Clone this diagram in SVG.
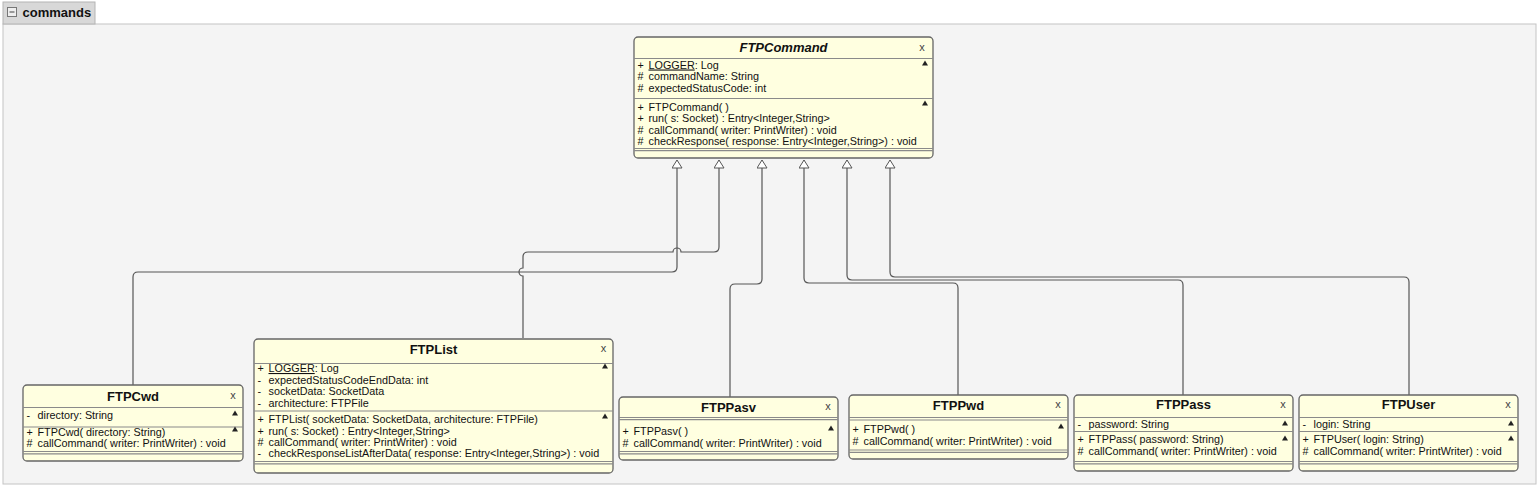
<svg xmlns="http://www.w3.org/2000/svg" width="1539" height="488" viewBox="0 0 1539 488">
<style>
text { font-family: "Liberation Sans", Arial, sans-serif; fill: #111; }
.m { font-size: 10.8px; }
.ti { font-size: 13px; font-weight: bold; text-anchor: middle; }
.cx { font-size: 11px; fill: #444; text-anchor: middle; }
.box { fill: #ffffe0; stroke: #666; stroke-width: 1.3; }
.sep { stroke: #8a8a8a; stroke-width: 1.2; fill: none; }
.tri { fill: #222; }
.conn path { fill: none; stroke: #555; stroke-width: 1.2; marker-end: url(#gen); }
</style>
<defs>
<marker id="gen" viewBox="0 0 9 11" refX="8.5" refY="5.5" markerWidth="9" markerHeight="11" markerUnits="userSpaceOnUse" orient="auto">
<path d="M0.5,0.5 L8.5,5.5 L0.5,10.5 Z" fill="#fff" stroke="#555" stroke-width="1"/>
</marker>
</defs>

<g id="package">
<rect x="3" y="24" width="1533" height="460" fill="#f4f4f4" stroke="#c4c4c4" stroke-width="1"/>
<rect x="3" y="2" width="92" height="22" fill="#d8d8d8" stroke="#b4b4b4" stroke-width="1"/>
<rect x="7.5" y="7.5" width="9" height="9" fill="#eeeeee" stroke="#777" stroke-width="1"/>
<line x1="9.5" y1="12" x2="14.5" y2="12" stroke="#444" stroke-width="1"/>
<text x="22.5" y="17" style="font-size:13px;font-weight:bold">commands</text>
</g>

<g class="conn" id="connectors">
<path d="M133,385 V277 Q133,272 138,272 H672 Q677,272 677,267 V160"/>
<path d="M523,338 V276 A4,4 0 0 1 523,268 V257 Q523,252 528,252 H673 A4,4 0 0 1 681,252 H714 Q719,252 719,247 V160"/>
<path d="M730,397 V289 Q730,284 735,284 H757 Q762,284 762,279 V160"/>
<path d="M958,395 V288 Q958,283 953,283 H809 Q804,283 804,278 V160"/>
<path d="M1183,395 V285 Q1183,280 1178,280 H852 Q847,280 847,275 V160"/>
<path d="M1409,395 V282 Q1409,277 1404,277 H895 Q890,277 890,272 V160"/>
</g>

<g id="FTPCommand">
<rect class="box" x="634" y="37" width="299" height="121" rx="4"/>
<text class="ti" x="783.5" y="52" font-style="italic">FTPCommand</text>
<text class="cx" x="922" y="51">x</text>
<line class="sep" x1="634" y1="58.5" x2="933" y2="58.5"/>
<polygon class="tri" points="922,65.5 928,65.5 925,60.5"/>
<text class="m" y="68.5"><tspan x="637.5">+</tspan><tspan x="648.5" text-decoration="underline">LOGGER</tspan><tspan>: Log</tspan></text>
<text class="m" y="80"><tspan x="637.5">#</tspan><tspan x="648.5">commandName: String</tspan></text>
<text class="m" y="91.5"><tspan x="637.5">#</tspan><tspan x="648.5">expectedStatusCode: int</tspan></text>
<line class="sep" x1="634" y1="98.5" x2="933" y2="98.5"/>
<polygon class="tri" points="922,105.5 928,105.5 925,100.5"/>
<text class="m" y="110.5"><tspan x="637.5">+</tspan><tspan x="648.5">FTPCommand( )</tspan></text>
<text class="m" y="122"><tspan x="637.5">+</tspan><tspan x="648.5">run( s: Socket) : Entry&lt;Integer,String&gt;</tspan></text>
<text class="m" y="133.5"><tspan x="637.5">#</tspan><tspan x="648.5">callCommand( writer: PrintWriter) : void</tspan></text>
<text class="m" y="145"><tspan x="637.5">#</tspan><tspan x="648.5">checkResponse( response: Entry&lt;Integer,String&gt;) : void</tspan></text>
<line class="sep" x1="634" y1="148.5" x2="933" y2="148.5"/>
<line class="sep" x1="634" y1="150.7" x2="933" y2="150.7"/>
</g>

<g id="FTPCwd">
<rect class="box" x="23" y="385" width="220" height="76" rx="4"/>
<text class="ti" x="133" y="401">FTPCwd</text>
<text class="cx" x="233" y="399">x</text>
<line class="sep" x1="23" y1="407.5" x2="243" y2="407.5"/>
<polygon class="tri" points="232,415.5 238,415.5 235,410.5"/>
<text class="m" y="418.5"><tspan x="26.5">-</tspan><tspan x="37.5">directory: String</tspan></text>
<line class="sep" x1="23" y1="427" x2="243" y2="427"/>
<polygon class="tri" points="232,431.5 238,431.5 235,426.5"/>
<text class="m" y="435.5"><tspan x="26.5">+</tspan><tspan x="37.5">FTPCwd( directory: String)</tspan></text>
<text class="m" y="447"><tspan x="26.5">#</tspan><tspan x="37.5">callCommand( writer: PrintWriter) : void</tspan></text>
<line class="sep" x1="23" y1="451.5" x2="243" y2="451.5"/>
<line class="sep" x1="23" y1="453.8" x2="243" y2="453.8"/>
</g>

<g id="FTPList">
<rect class="box" x="254" y="339" width="359" height="134" rx="4"/>
<text class="ti" x="433.5" y="353.5">FTPList</text>
<text class="cx" x="603.5" y="352">x</text>
<line class="sep" x1="254" y1="363.5" x2="613" y2="363.5"/>
<polygon class="tri" points="602,368.5 608,368.5 605,363.5"/>
<text class="m" y="372"><tspan x="257.5">+</tspan><tspan x="268.5" text-decoration="underline">LOGGER</tspan><tspan>: Log</tspan></text>
<text class="m" y="383.5"><tspan x="257.5">-</tspan><tspan x="268.5">expectedStatusCodeEndData: int</tspan></text>
<text class="m" y="395"><tspan x="257.5">-</tspan><tspan x="268.5">socketData: SocketData</tspan></text>
<text class="m" y="406.5"><tspan x="257.5">-</tspan><tspan x="268.5">architecture: FTPFile</tspan></text>
<line class="sep" x1="254" y1="411" x2="613" y2="411"/>
<polygon class="tri" points="602,418.5 608,418.5 605,413.5"/>
<text class="m" y="423"><tspan x="257.5">+</tspan><tspan x="268.5">FTPList( socketData: SocketData, architecture: FTPFile)</tspan></text>
<text class="m" y="434.5"><tspan x="257.5">+</tspan><tspan x="268.5">run( s: Socket) : Entry&lt;Integer,String&gt;</tspan></text>
<text class="m" y="446"><tspan x="257.5">#</tspan><tspan x="268.5">callCommand( writer: PrintWriter) : void</tspan></text>
<text class="m" y="457"><tspan x="257.5">-</tspan><tspan x="268.5">checkResponseListAfterData( response: Entry&lt;Integer,String&gt;) : void</tspan></text>
<line class="sep" x1="254" y1="461.5" x2="613" y2="461.5"/>
<line class="sep" x1="254" y1="463.8" x2="613" y2="463.8"/>
</g>

<g id="FTPPasv">
<rect class="box" x="619" y="397" width="219" height="63" rx="4"/>
<text class="ti" x="728.5" y="412">FTPPasv</text>
<text class="cx" x="828" y="410">x</text>
<line class="sep" x1="619" y1="417.5" x2="838" y2="417.5"/>
<line class="sep" x1="619" y1="419.7" x2="838" y2="419.7"/>
<polygon class="tri" points="828,430.5 834,430.5 831,425.5"/>
<text class="m" y="435"><tspan x="622.5">+</tspan><tspan x="633.5">FTPPasv( )</tspan></text>
<text class="m" y="446.5"><tspan x="622.5">#</tspan><tspan x="633.5">callCommand( writer: PrintWriter) : void</tspan></text>
<line class="sep" x1="619" y1="451.5" x2="838" y2="451.5"/>
<line class="sep" x1="619" y1="453.8" x2="838" y2="453.8"/>
</g>

<g id="FTPPwd">
<rect class="box" x="849" y="395" width="219" height="64" rx="4"/>
<text class="ti" x="958.5" y="410">FTPPwd</text>
<text class="cx" x="1058" y="408">x</text>
<line class="sep" x1="849" y1="417.5" x2="1068" y2="417.5"/>
<line class="sep" x1="849" y1="420" x2="1068" y2="420"/>
<polygon class="tri" points="1058,428.5 1064,428.5 1061,423.5"/>
<text class="m" y="433"><tspan x="852.5">+</tspan><tspan x="863.5">FTPPwd( )</tspan></text>
<text class="m" y="445"><tspan x="852.5">#</tspan><tspan x="863.5">callCommand( writer: PrintWriter) : void</tspan></text>
<line class="sep" x1="849" y1="450" x2="1068" y2="450"/>
<line class="sep" x1="849" y1="452.3" x2="1068" y2="452.3"/>
</g>

<g id="FTPPass">
<rect class="box" x="1074" y="395" width="219" height="76" rx="4"/>
<text class="ti" x="1183.5" y="409">FTPPass</text>
<text class="cx" x="1283" y="408">x</text>
<line class="sep" x1="1074" y1="417.5" x2="1293" y2="417.5"/>
<polygon class="tri" points="1282,425.5 1288,425.5 1285,420.5"/>
<text class="m" y="428"><tspan x="1077.5">-</tspan><tspan x="1088.5">password: String</tspan></text>
<line class="sep" x1="1074" y1="431.5" x2="1293" y2="431.5"/>
<polygon class="tri" points="1282,440.5 1288,440.5 1285,435.5"/>
<text class="m" y="443"><tspan x="1077.5">+</tspan><tspan x="1088.5">FTPPass( password: String)</tspan></text>
<text class="m" y="455"><tspan x="1077.5">#</tspan><tspan x="1088.5">callCommand( writer: PrintWriter) : void</tspan></text>
<line class="sep" x1="1074" y1="461.5" x2="1293" y2="461.5"/>
<line class="sep" x1="1074" y1="463.8" x2="1293" y2="463.8"/>
</g>

<g id="FTPUser">
<rect class="box" x="1299" y="395" width="219" height="76" rx="4"/>
<text class="ti" x="1408.5" y="409">FTPUser</text>
<text class="cx" x="1508" y="408">x</text>
<line class="sep" x1="1299" y1="417.5" x2="1518" y2="417.5"/>
<polygon class="tri" points="1508,425.5 1514,425.5 1511,420.5"/>
<text class="m" y="428"><tspan x="1302.5">-</tspan><tspan x="1313.5">login: String</tspan></text>
<line class="sep" x1="1299" y1="431.5" x2="1518" y2="431.5"/>
<polygon class="tri" points="1508,440.5 1514,440.5 1511,435.5"/>
<text class="m" y="443"><tspan x="1302.5">+</tspan><tspan x="1313.5">FTPUser( login: String)</tspan></text>
<text class="m" y="455"><tspan x="1302.5">#</tspan><tspan x="1313.5">callCommand( writer: PrintWriter) : void</tspan></text>
<line class="sep" x1="1299" y1="461.5" x2="1518" y2="461.5"/>
<line class="sep" x1="1299" y1="463.8" x2="1518" y2="463.8"/>
</g>
</svg>
